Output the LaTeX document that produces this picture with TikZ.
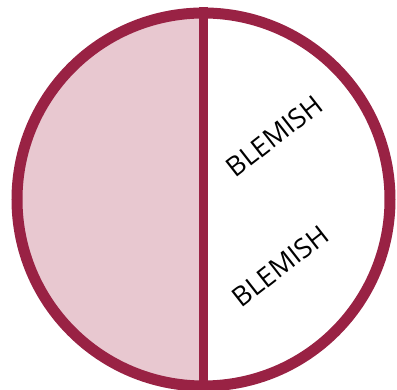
\documentclass[tikz,border=0pt]{standalone}
\usepackage{fontspec}
\setmainfont{Open Sans}
\definecolor{wine}{RGB}{153,34,68}
\definecolor{rosefill}{RGB}{232,200,208}
\begin{document}
\begin{tikzpicture}[x=1pt,y=1pt,
  lbl/.style={font=\fontsize{27}{32}\selectfont, rotate=38, inner sep=0pt, text=black}]
\useasboundingbox (0,0) rectangle (397,390);
\coordinate (c) at (203.5,190.5);
\fill[rosefill] (203.5,190.5) ++(90:186.5) arc (90:270:186.5) -- cycle;
\draw[wine, line width=11] (c) circle (186.5);
\coordinate (top) at (203.5,383);
\coordinate (bot) at (203.5,-2);
\draw[wine, line width=9] (top) -- (bot);
\node[lbl] (b1) at (274.5,254) {BLEMISH};
\node[lbl] (b2) at (280.5,124) {BLEMISH};
\end{tikzpicture}
\end{document}
